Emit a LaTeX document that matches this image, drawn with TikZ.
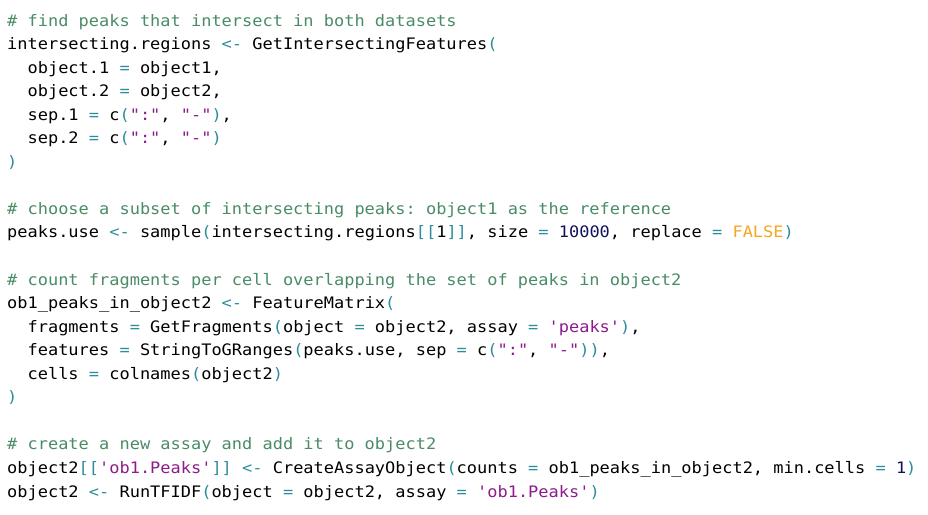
\documentclass[tikz,border=0pt]{standalone}
\usepackage{fontspec}
\setmonofont[FakeStretch=1.074]{DejaVu Sans Mono}
\definecolor{cmt}{HTML}{4A8C68}
\definecolor{opc}{HTML}{2E8C9C}
\definecolor{strc}{HTML}{8E1B8C}
\definecolor{numc}{HTML}{10105C}
\definecolor{boolc}{HTML}{F5A623}
\newcommand\Cm[1]{\textcolor{cmt}{#1}}
\newcommand\Op[1]{\textcolor{opc}{#1}}
\newcommand\St[1]{\textcolor{strc}{#1}}
\newcommand\Nu[1]{\textcolor{numc}{#1}}
\newcommand\Bo[1]{\textcolor{boolc}{#1}}
\begin{document}
\begin{tikzpicture}[x=1pt,y=-23.55pt,
  ln/.style={anchor=base west,inner sep=0pt,yshift=-26pt,font=\ttfamily\fontsize{15.8}{18}\selectfont}]
\useasboundingbox[fill=white] (0,0) rectangle (928pt,-514pt);
\node[ln] (l1) at (7,0) {\Cm{\# find peaks that intersect in both datasets}};
\node[ln] (l2) at (7,1) {intersecting.regions \Op{<-} GetIntersectingFeatures\Op{(}};
\node[ln] (l3) at (7,2) {\ \ object.1 \Op{=} object1,};
\node[ln] (l4) at (7,3) {\ \ object.2 \Op{=} object2,};
\node[ln] (l5) at (7,4) {\ \ sep.1 \Op{=} c\Op{(}\St{":"}, \St{"-"}\Op{)},};
\node[ln] (l6) at (7,5) {\ \ sep.2 \Op{=} c\Op{(}\St{":"}, \St{"-"}\Op{)}};
\node[ln] (l7) at (7,6) {\Op{)}};
\node[ln] (l8) at (7,8) {\Cm{\# choose a subset of intersecting peaks: object1 as the reference}};
\node[ln] (l9) at (7,9) {peaks.use \Op{<-} sample\Op{(}intersecting.regions\Op{[[}1\Op{]]}, size \Op{=} \Nu{10000}, replace \Op{=} \Bo{FALSE}\Op{)}};
\node[ln] (l10) at (7,11) {\Cm{\# count fragments per cell overlapping the set of peaks in object2}};
\node[ln] (l11) at (7,12) {ob1\_peaks\_in\_object2 \Op{<-} FeatureMatrix\Op{(}};
\node[ln] (l12) at (7,13) {\ \ fragments \Op{=} GetFragments\Op{(}object \Op{=} object2, assay \Op{=} \St{'peaks'}\Op{)},};
\node[ln] (l13) at (7,14) {\ \ features \Op{=} StringToGRanges\Op{(}peaks.use, sep \Op{=} c\Op{(}\St{":"}, \St{"-"}\Op{))},};
\node[ln] (l14) at (7,15) {\ \ cells \Op{=} colnames\Op{(}object2\Op{)}};
\node[ln] (l15) at (7,16) {\Op{)}};
\node[ln] (l16) at (7,18) {\Cm{\# create a new assay and add it to object2}};
\node[ln] (l17) at (7,19) {object2\Op{[[}\St{'ob1.Peaks'}\Op{]]} \Op{<-} CreateAssayObject\Op{(}counts \Op{=} ob1\_peaks\_in\_object2, min.cells \Op{=} \Nu{1}\Op{)}};
\node[ln] (l18) at (7,20) {object2 \Op{<-} RunTFIDF\Op{(}object \Op{=} object2, assay \Op{=} \St{'ob1.Peaks'}\Op{)}};
\end{tikzpicture}
\end{document}
